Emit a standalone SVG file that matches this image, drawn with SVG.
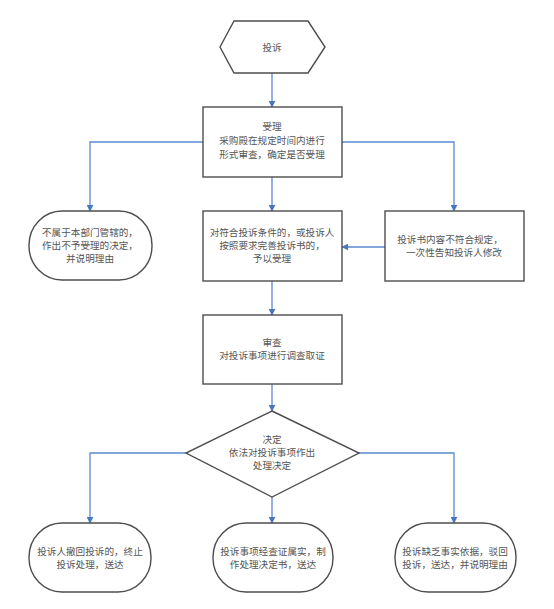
<svg xmlns="http://www.w3.org/2000/svg" width="554" height="609" viewBox="0 0 554 609">
<defs>
<style>
.n{fill:#fff;stroke:#4d4d4d;stroke-width:1.4}
.t{font-family:"Noto Sans CJK SC","Liberation Serif",serif;font-size:9.6px;fill:#555;text-anchor:middle}
.c{fill:none;stroke:#5a8ad0;stroke-width:1.3}
</style>
<marker id="a" viewBox="0 0 10 10" refX="9" refY="5" markerWidth="7" markerHeight="7" orient="auto" markerUnits="userSpaceOnUse">
<path d="M0,0 L10,5 L0,10 z" fill="#4a78c0"/>
</marker>
</defs>
<rect width="554" height="609" fill="#fff"/>
<g id="connectors">
<path class="c" d="M272,73 V107" marker-end="url(#a)"/>
<path class="c" d="M203,142 H90 V211" marker-end="url(#a)"/>
<path class="c" d="M342,142 H454 V211" marker-end="url(#a)"/>
<path class="c" d="M272,177 V211" marker-end="url(#a)"/>
<path class="c" d="M385,247 H342" marker-end="url(#a)"/>
<path class="c" d="M272,281 V315" marker-end="url(#a)"/>
<path class="c" d="M272,384 V411" marker-end="url(#a)"/>
<path class="c" d="M186,453 H90 V523" marker-end="url(#a)"/>
<path class="c" d="M359,453 H454 V523" marker-end="url(#a)"/>
<path class="c" d="M272,497 V523" marker-end="url(#a)"/>
</g>
<g id="start">
<polygon class="n" points="220,47 234,21 308,21 325,47 308,73 234,73"/>
<text class="t" x="272" y="51">投诉</text>
</g>
<g id="accept">
<rect class="n" x="203" y="107" width="139" height="70"/>
<text class="t" x="272" y="130">受理</text>
<text class="t" x="272" y="144">采购殿在规定时间内进行</text>
<text class="t" x="272" y="158">形式审查，确定是否受理</text>
</g>
<g id="reject">
<rect class="n" x="29" y="211" width="123" height="69" rx="33" ry="34"/>
<text class="t" x="90" y="236">不属于本部门管辖的，</text>
<text class="t" x="90" y="249">作出不予受理的决定，</text>
<text class="t" x="90" y="262">并说明理由</text>
</g>
<g id="accepted">
<rect class="n" x="203" y="211" width="139" height="70"/>
<text class="t" x="272" y="236">对符合投诉条件的，或投诉人</text>
<text class="t" x="272" y="249">按照要求完善投诉书的，</text>
<text class="t" x="272" y="262">予以受理</text>
</g>
<g id="modify">
<rect class="n" x="385" y="211" width="139" height="70"/>
<text class="t" x="450" y="243">投诉书内容不符合规定，</text>
<text class="t" x="454" y="256">一次性告知投诉人修改</text>
</g>
<g id="review">
<rect class="n" x="203" y="315" width="139" height="69"/>
<text class="t" x="272" y="346">审查</text>
<text class="t" x="272" y="359">对投诉事项进行调查取证</text>
</g>
<g id="decision">
<polygon class="n" points="272,411 359,453 272,497 186,453"/>
<text class="t" x="272" y="443">决定</text>
<text class="t" x="272" y="456">依法对投诉事项作出</text>
<text class="t" x="272" y="469">处理决定</text>
</g>
<g id="withdraw">
<rect class="n" x="29" y="523" width="122" height="69" rx="33" ry="34"/>
<text class="t" x="90" y="555">投诉人撤回投诉的，终止</text>
<text class="t" x="90" y="568">投诉处理，送达</text>
</g>
<g id="confirmed">
<rect class="n" x="213" y="523" width="120" height="69" rx="33" ry="34"/>
<text class="t" x="273" y="555">投诉事项经查证属实，制</text>
<text class="t" x="273" y="568">作处理决定书，送达</text>
</g>
<g id="dismiss">
<rect class="n" x="395" y="523" width="121" height="69" rx="33" ry="34"/>
<text class="t" x="455" y="555">投诉缺乏事实依据，驳回</text>
<text class="t" x="455" y="568">投诉，送达，并说明理由</text>
</g>
</svg>
